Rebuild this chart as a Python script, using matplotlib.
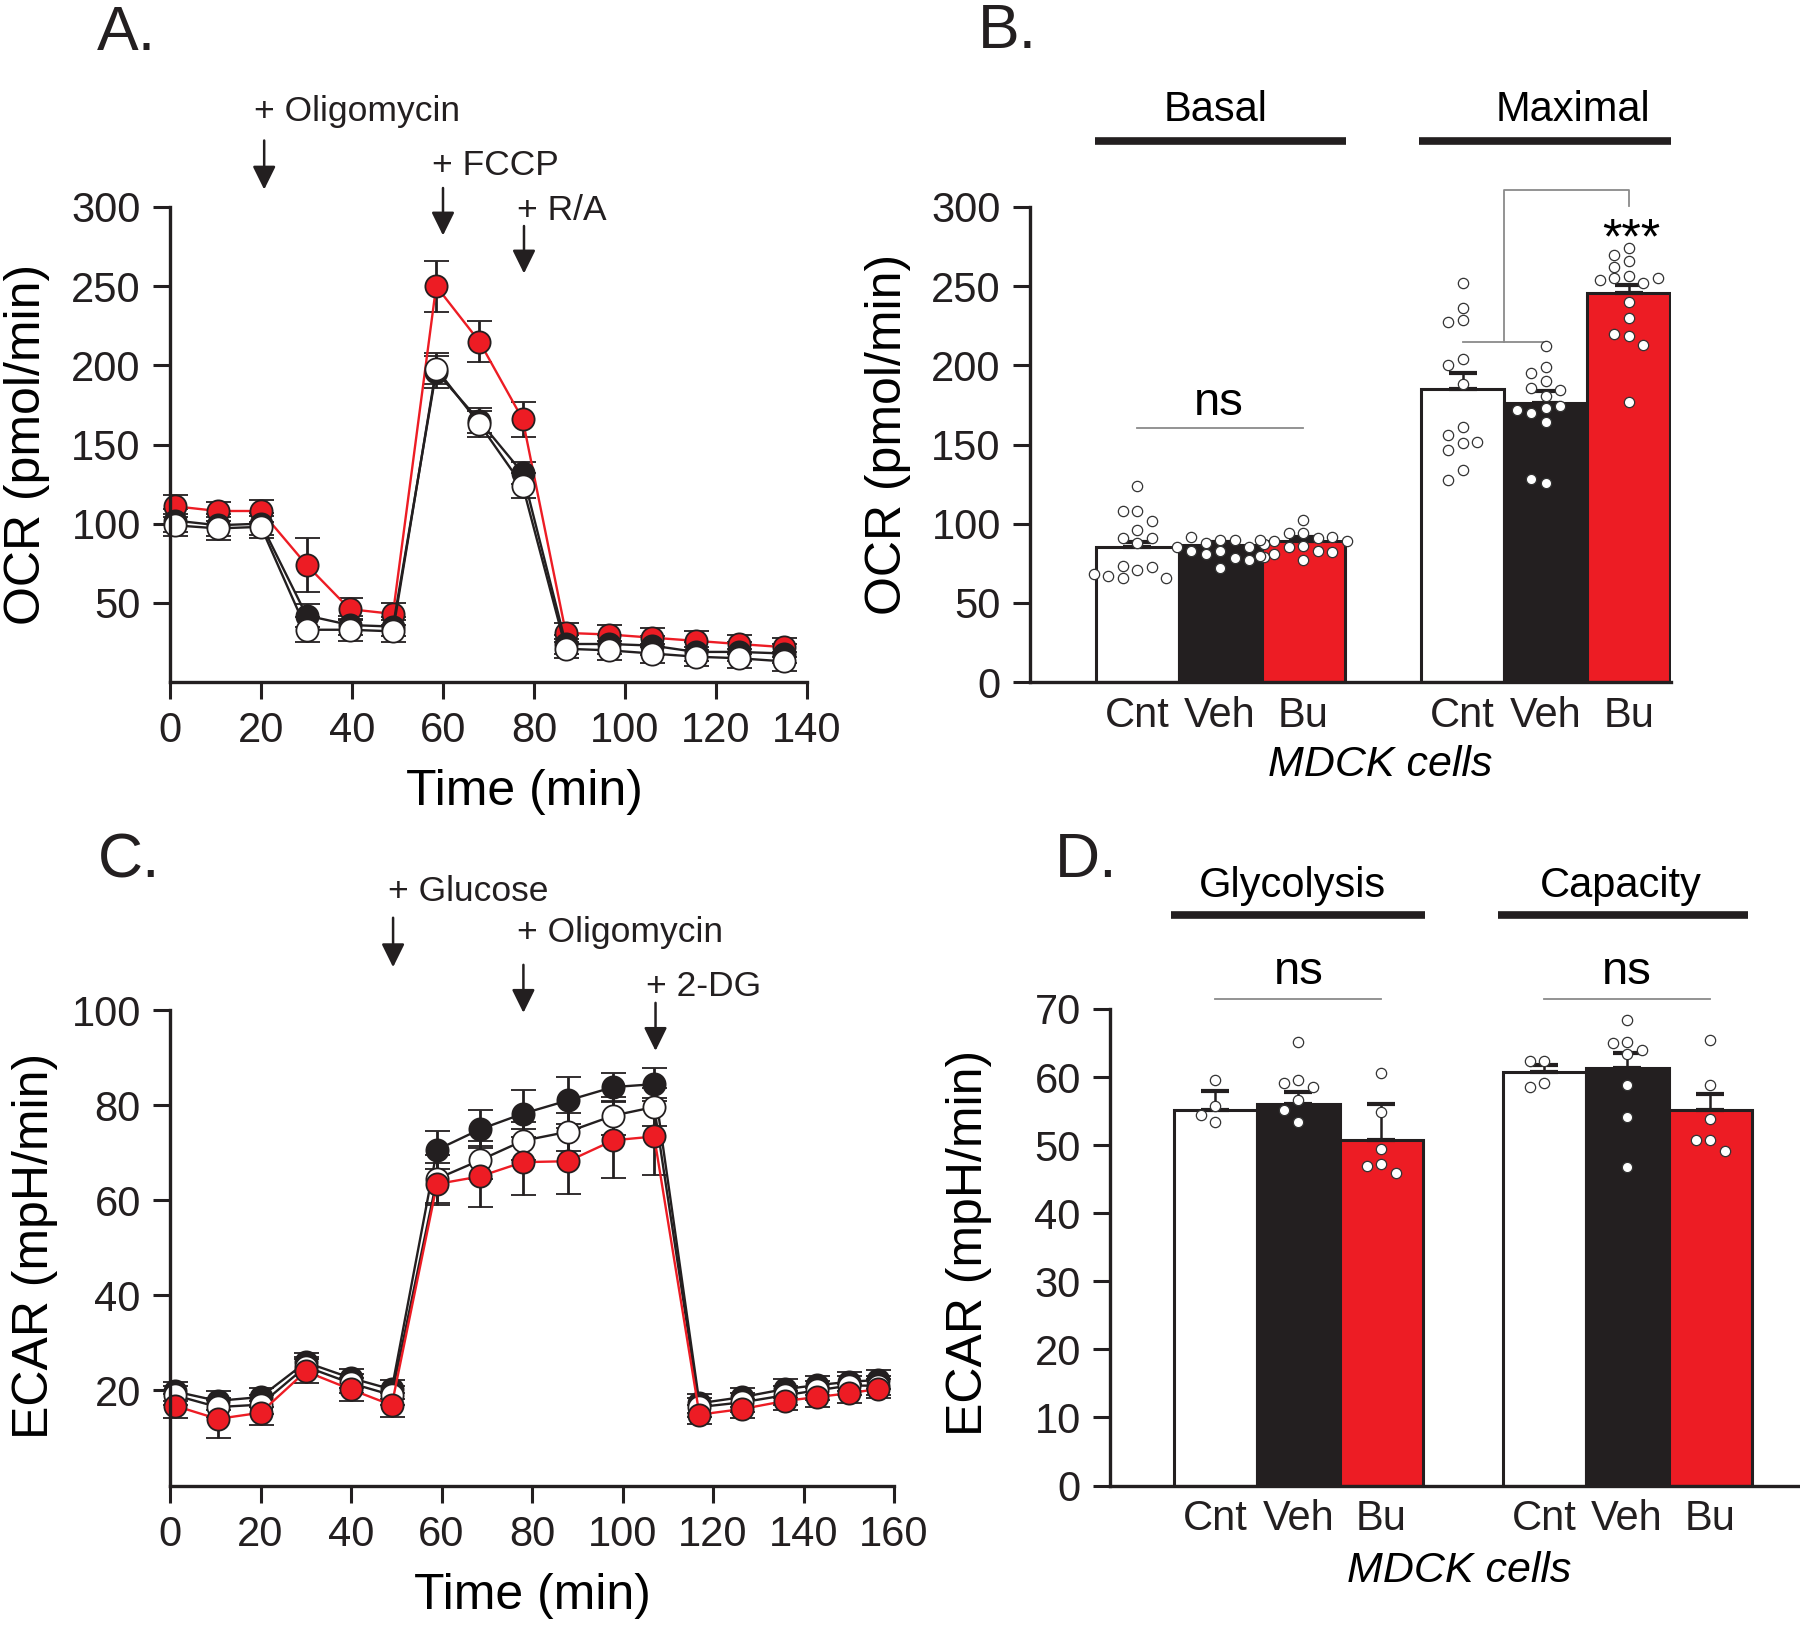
import numpy as np
import matplotlib.pyplot as plt

plt.rcParams['font.family'] = ['Liberation Sans', 'DejaVu Sans']

RED = '#ED1C24'
BLACK = '#231F20'
GREY = '#8a8a8a'

# ---- A: OCR time course ----
ocr_time = [1, 10.5, 20, 30, 39.5, 49, 58.5, 68, 77.5, 87, 96.5, 106, 115.5, 125, 135]
ocr_red = [111, 108, 108, 74, 46, 43, 250, 215, 166, 31, 30, 28, 26, 24, 22]
ocr_red_err = [7, 6, 7, 17, 7, 7, 16, 13, 11, 6, 6, 6, 6, 6, 6]
ocr_black = [102, 99, 100, 42, 36, 35, 196, 165, 132, 24, 24, 23, 19, 19, 18]
ocr_black_err = [7, 7, 7, 7, 6, 6, 10, 8, 7, 6, 6, 6, 6, 6, 6]
ocr_white = [99, 97, 98, 33, 33, 32, 198, 163, 124, 21, 20, 18, 16, 15, 13]
ocr_white_err = [7, 7, 7, 8, 7, 7, 10, 8, 8, 6, 6, 6, 6, 6, 6]

# ---- B: OCR basal / maximal ----
groups = ['Cnt', 'Veh', 'Bu']
basal_mean = [85, 86.5, 89]
basal_err = [3.5, 2, 2.5]
max_mean = [185, 176.5, 245.5]
max_err = [10, 7, 5]
basal_cnt_pts = [124, 108, 108, 102, 96, 91, 91, 88, 70.5, 73, 72.6, 67, 66, 66, 68]
basal_veh_pts = [90, 88, 89.6, 91.7, 85, 83, 83, 85, 87, 80.7, 78.6, 77, 79, 71.8]
basal_bu_pts = [102.5, 94, 94, 90.7, 89, 91.7, 90, 89, 85.6, 85, 83, 81, 82, 77, 79.6]
max_cnt_pts = [252, 236, 228.7, 227.6, 204, 200, 188, 161, 156, 150.7, 151.8, 146.5, 133.8, 127.4]
max_veh_pts = [212, 199, 195, 190.4, 185.8, 184.7, 180.5, 173, 170, 174.5, 171.5, 164.5, 125.7, 128.5]
max_bu_pts = [274, 269.6, 266, 262, 256.5, 255, 252, 254, 255, 240, 229.7, 218.7, 219.7, 213, 176.6]

# ---- C: ECAR time course ----
ecar_time = [1, 10.5, 20, 30, 40, 49, 59, 68.5, 78, 88, 98, 107, 117, 126.5, 136, 143, 150, 156.5]
ecar_black = [19.8, 17.8, 18.6, 25.9, 22.6, 20.2, 70.6, 74.9, 78.2, 81.0, 83.8, 84.4, 17.3, 18.6, 20.3, 21.1, 21.8, 22.2]
ecar_black_err = [2, 2, 2, 2, 2, 2, 4, 4, 5, 5, 3, 3.5, 2, 2, 2, 2, 2, 2]
ecar_white = [19, 16.5, 17, 25, 21.5, 19, 64.5, 68.4, 72.5, 74.4, 77.8, 79.6, 16.5, 17.5, 19, 20, 21, 21]
ecar_white_err = [2, 2, 2, 2, 2, 2, 5, 4, 4, 4, 4, 4, 2, 2, 2, 2, 2, 2]
ecar_red = [16.8, 14.0, 15.3, 24.0, 20.2, 16.9, 63.4, 65.0, 68.0, 68.2, 72.6, 73.4, 14.9, 16.1, 17.8, 18.6, 19.4, 20.3]
ecar_red_err = [2.5, 4, 2.5, 2.5, 2.5, 2.5, 4.5, 6.5, 7, 7, 8, 8, 2, 2, 2, 2, 2, 2]

# ---- D: ECAR glycolysis / capacity ----
gly_mean = [55.1, 56.0, 50.7]
gly_err = [2.9, 1.8, 5.3]
cap_mean = [60.7, 61.3, 55.2]
cap_err = [1.1, 2.2, 2.3]
gly_cnt_pts = [59.6, 55.7, 54.5, 53.4]
gly_veh_pts = [65.2, 59.6, 59.2, 58.6, 56.7, 55.2, 53.4]
gly_bu_pts = [60.6, 54.9, 49.5, 47.3, 47.0, 45.9]
cap_cnt_pts = [62.4, 62.4, 59.1, 58.5]
cap_veh_pts = [68.4, 65.2, 65.0, 64.0, 63.4, 58.9, 54.1, 46.8]
cap_bu_pts = [65.4, 58.9, 53.8, 50.8, 50.7, 49.2]

bar_colors = ['white', BLACK, RED]
TICK_FS = 30
LABEL_FS = 36
NOTE_FS = 25.5
HEAD_FS = 30


def style_axes(ax):
    for s in ['top', 'right']:
        ax.spines[s].set_visible(False)
    for s in ['left', 'bottom']:
        ax.spines[s].set_linewidth(2.4)
        ax.spines[s].set_color(BLACK)
    ax.tick_params(axis='both', width=2.2, length=12, pad=9, labelsize=TICK_FS, colors=BLACK)


def swarm(vals, xpx, ypx, d=11.0, step=14.5):
    # simple beeswarm offsets (in data units) so dots don't overlap
    placed = []
    offs = []
    for v in vals:
        for k in [0, -1, 1, -2, 2, -3, 3, -4, 4]:
            dx = k * step
            if all((dx - p) ** 2 + ((v - pv) * ypx) ** 2 >= d * d for p, pv in placed):
                break
        placed.append((dx, v))
        offs.append(dx / xpx)
    return np.array(offs)


def time_series(ax, t, vals, err, face, line_color):
    cont = ax.errorbar(t, vals, yerr=err, fmt='-o', color=line_color, mfc=face, mec=BLACK,
                       ms=16, mew=1.3, lw=1.7, ecolor=BLACK, elinewidth=2, capsize=9, capthick=2.8)
    for art in [cont[0]] + list(cont[1]) + list(cont[2]):
        art.set_clip_on(False)


def arrow(ax, x, y0, y1, label, ytext, xtext):
    ax.annotate('', xy=(x, y1), xytext=(x, y0), annotation_clip=False,
                arrowprops=dict(arrowstyle='-|>,head_length=0.65,head_width=0.32', color=BLACK,
                                lw=1.8, mutation_scale=22, shrinkA=0, shrinkB=0))
    ax.text(xtext, ytext, label, ha='left', va='baseline', fontsize=NOTE_FS, color=BLACK)


def bar_panel(ax, centers, means, errs, pts, xpx, ypx):
    ax.bar(centers, means, width=1.0, color=bar_colors * 2, edgecolor=BLACK, lw=2.2, zorder=2)
    ax.errorbar(centers, means, yerr=[np.zeros(len(means)), errs], fmt='none', ecolor=BLACK,
                elinewidth=1.8, capsize=10, capthick=3, zorder=3)
    for c, p in zip(centers, pts):
        offs = swarm(p, xpx, ypx)
        ax.scatter(c + offs, p, s=55, facecolor='white', edgecolor='#333333', lw=0.9, zorder=4)
    ax.set_xticks(centers)
    ax.set_xticklabels(groups * 2)
    ax.tick_params(axis='x', length=0, pad=10)


fig = plt.figure(figsize=(18, 16.28), dpi=100)
H = 1628.0
W = 1800.0

# ---------------- Panel A ----------------
axA = fig.add_axes([170 / W, (H - 682) / H, 637 / W, 475 / H])
style_axes(axA)
time_series(axA, ocr_time, ocr_red, ocr_red_err, RED, RED)
time_series(axA, ocr_time, ocr_black, ocr_black_err, BLACK, BLACK)
time_series(axA, ocr_time, ocr_white, ocr_white_err, 'white', BLACK)
axA.set_xlim(0, 140)
axA.set_ylim(0, 300)
axA.set_xticks(range(0, 141, 20))
axA.set_yticks(range(50, 301, 50))
axA.text(0.557, -0.232, 'Time (min)', transform=axA.transAxes, ha='center', va='center', fontsize=LABEL_FS)
axA.text(-0.224, 0.5, 'OCR (pmol/min)', transform=axA.transAxes, ha='center', va='center',
         rotation=90, fontsize=LABEL_FS)
arrow(axA, 20.7, 342, 311, '+ Oligomycin', 354, 18.5)
arrow(axA, 60.0, 312, 282, '+ FCCP', 320, 57.6)
arrow(axA, 77.8, 288, 258, '+ R/A', 291.5, 76.3)

# ---------------- Panel B ----------------
axB = fig.add_axes([1030 / W, (H - 682) / H, 641 / W, 475 / H])
style_axes(axB)
b_centers = np.array([1.29, 2.29, 3.29, 5.21, 6.21, 7.21])
bar_panel(axB, b_centers, basal_mean + max_mean, basal_err + max_err,
          [basal_cnt_pts, basal_veh_pts, basal_bu_pts, max_cnt_pts, max_veh_pts, max_bu_pts],
          83.0, 1.583)
axB.set_xlim(0, 7.72)
axB.set_ylim(0, 300)
axB.set_yticks(range(0, 301, 50))
axB.text(-0.221, 0.522, 'OCR (pmol/min)', transform=axB.transAxes, ha='center', va='center',
         rotation=90, fontsize=LABEL_FS)
axB.text(0.546, -0.175, 'MDCK cells', transform=axB.transAxes, ha='center', va='center',
         fontsize=31, style='italic')
# group headers
axB.plot([0.78, 3.80], [342, 342], color=BLACK, lw=5.5, solid_capstyle='butt', clip_on=False)
axB.plot([4.68, 7.72], [342, 342], color=BLACK, lw=5.5, solid_capstyle='butt', clip_on=False)
axB.text(2.24, 361, 'Basal', ha='center', va='center', fontsize=HEAD_FS)
axB.text(6.54, 361, 'Maximal', ha='center', va='center', fontsize=HEAD_FS)
# significance
axB.plot([b_centers[0], b_centers[2]], [160.4, 160.4], color=GREY, lw=1.3)
axB.text(2.28, 168.7, 'ns', ha='center', va='baseline', fontsize=34)
mid = (b_centers[3] + b_centers[4]) / 2
axB.plot([b_centers[3], b_centers[4]], [214.8, 214.8], color=GREY, lw=1.3, clip_on=False)
axB.plot([mid, mid, b_centers[5], b_centers[5]], [214.8, 311, 311, 300.7], color=GREY, lw=1.3,
         clip_on=False)
axB.text(7.24, 279, '***', ha='center', va='center', fontsize=36)

# ---------------- Panel C ----------------
axC = fig.add_axes([170 / W, (H - 1485.5) / H, 724 / W, 475.5 / H])
style_axes(axC)
time_series(axC, ecar_time, ecar_black, ecar_black_err, BLACK, BLACK)
time_series(axC, ecar_time, ecar_white, ecar_white_err, 'white', BLACK)
time_series(axC, ecar_time, ecar_red, ecar_red_err, RED, RED)
axC.set_xlim(0, 160)
axC.set_ylim(0, 100)
axC.set_xticks(range(0, 161, 20))
axC.set_yticks(range(20, 101, 20))
axC.text(0.5, -0.232, 'Time (min)', transform=axC.transAxes, ha='center', va='center', fontsize=LABEL_FS)
axC.text(-0.187, 0.504, 'ECAR (mpH/min)', transform=axC.transAxes, ha='center', va='center',
         rotation=90, fontsize=LABEL_FS)
arrow(axC, 49.3, 119.4, 109.0, '+ Glucose', 122.9, 48.1)
arrow(axC, 78.1, 109.5, 99.4, '+ Oligomycin', 114.2, 76.7)
arrow(axC, 107.3, 101.5, 91.4, '+ 2-DG', 103.0, 105.2)

# ---------------- Panel D ----------------
axD = fig.add_axes([1110 / W, (H - 1485.5) / H, 688 / W, 476.5 / H])
style_axes(axD)
d_centers = np.array([1.27, 2.27, 3.27, 5.23, 6.23, 7.23])
bar_panel(axD, d_centers, gly_mean + cap_mean, gly_err + cap_err,
          [gly_cnt_pts, gly_veh_pts, gly_bu_pts, cap_cnt_pts, cap_veh_pts, cap_bu_pts],
          83.0, 6.807)
axD.set_xlim(0, 8.29)
axD.set_ylim(0, 70)
axD.set_yticks(range(0, 71, 10))
axD.text(-0.205, 0.51, 'ECAR (mpH/min)', transform=axD.transAxes, ha='center', va='center',
         rotation=90, fontsize=LABEL_FS)
axD.text(0.507, -0.18, 'MDCK cells', transform=axD.transAxes, ha='center', va='center',
         fontsize=31, style='italic')
axD.plot([0.73, 3.80], [83.8, 83.8], color=BLACK, lw=5.5, solid_capstyle='butt', clip_on=False)
axD.plot([4.67, 7.69], [83.8, 83.8], color=BLACK, lw=5.5, solid_capstyle='butt', clip_on=False)
axD.text(2.2, 88.1, 'Glycolysis', ha='center', va='center', fontsize=HEAD_FS)
axD.text(6.16, 88.1, 'Capacity', ha='center', va='center', fontsize=HEAD_FS)
for a, b in [(0, 2), (3, 5)]:
    axD.plot([d_centers[a], d_centers[b]], [71.5, 71.5], color=GREY, lw=1.3, clip_on=False)
    axD.text((d_centers[a] + d_centers[b]) / 2, 73.6, 'ns', ha='center', va='baseline', fontsize=34)

# panel letters
for x, y, s in [(126, 34, 'A.'), (1007, 32, 'B.'), (129, 861, 'C.'), (1086, 861, 'D.')]:
    fig.text(x / W, 1 - y / H, s, ha='center', va='center', fontsize=45, color=BLACK)

fig.savefig('out.png', dpi=100, facecolor='white')
